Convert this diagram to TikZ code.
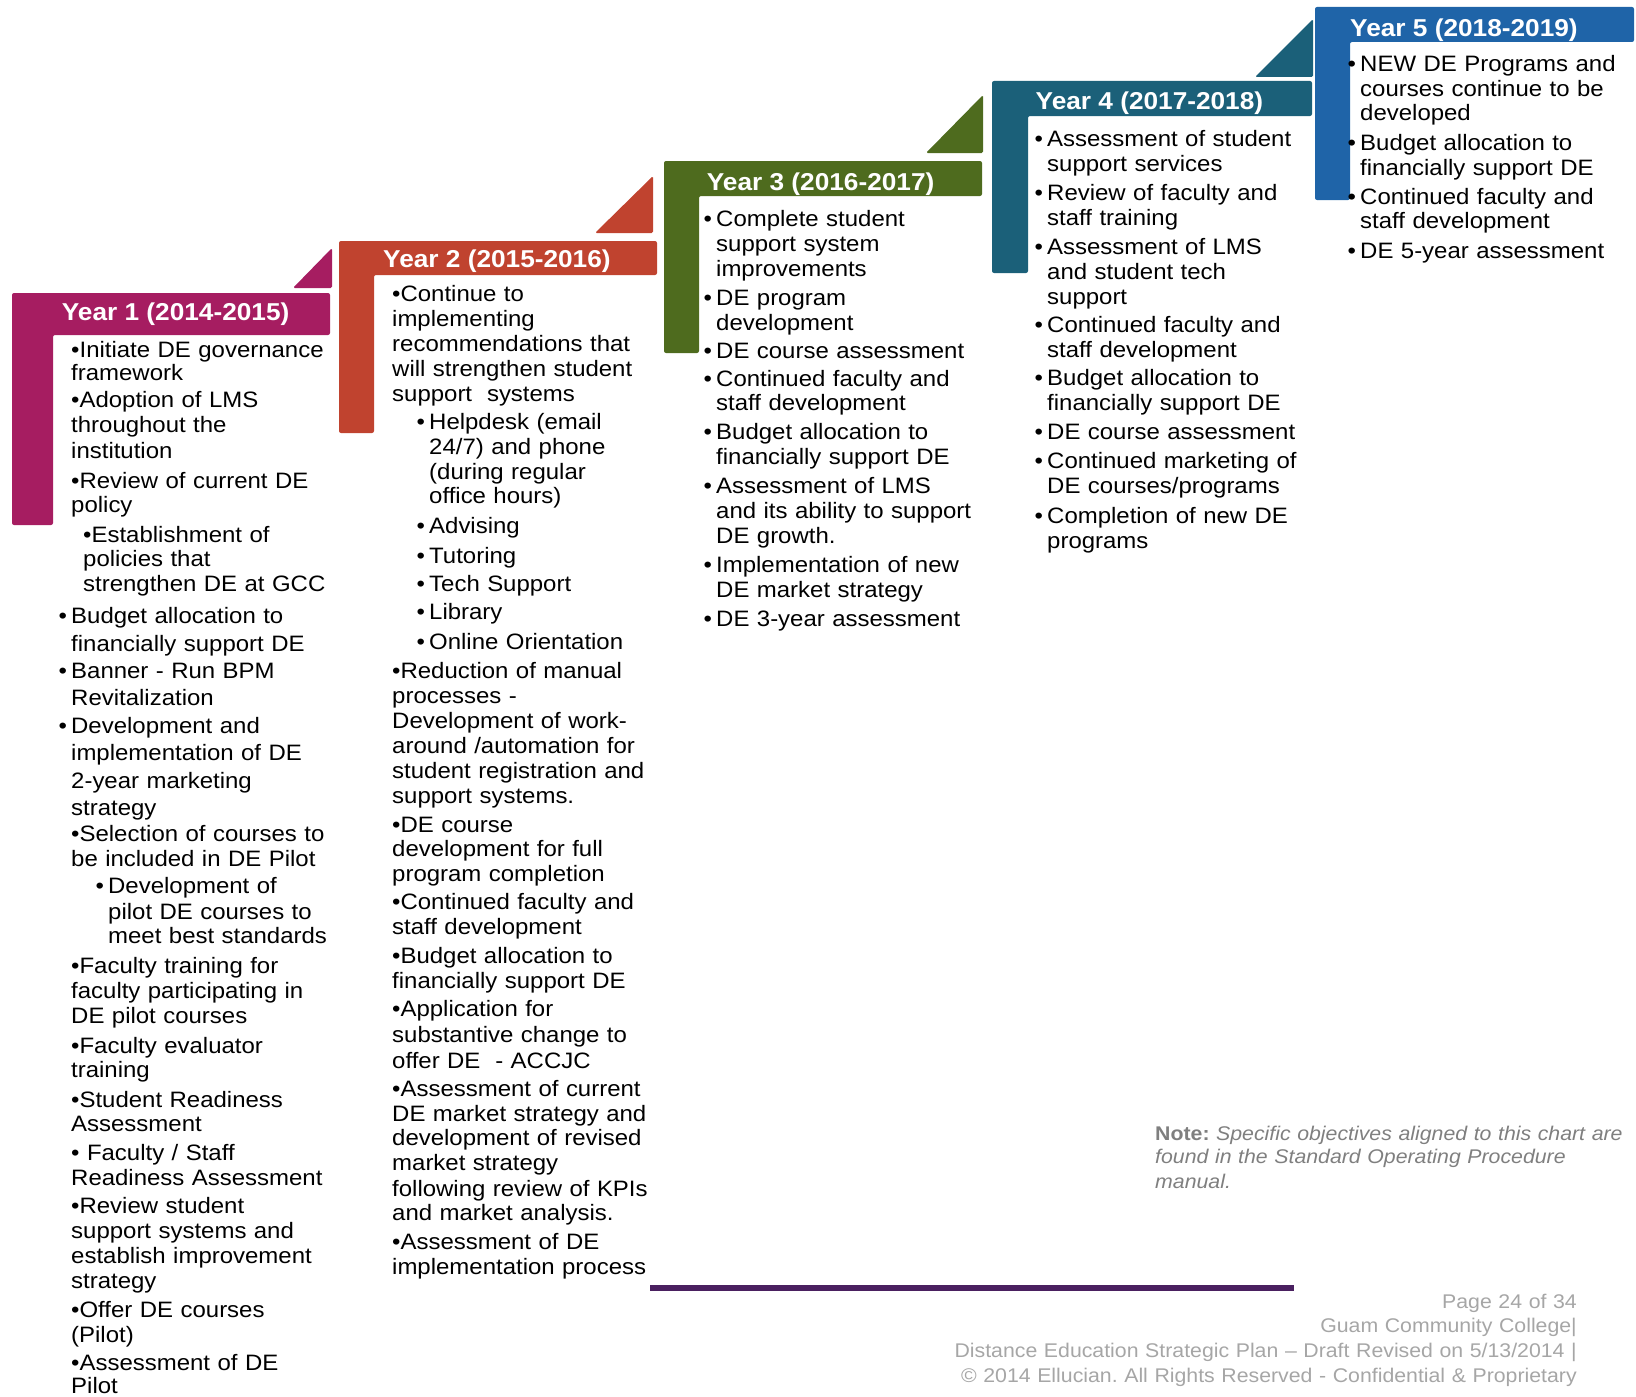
\documentclass[tikz,border=0pt]{standalone}
\usepackage{fontspec}
\setmainfont[FakeStretch=1.075]{Liberation Sans}
\frenchspacing
\definecolor{YMagenta}{HTML}{A61D61}
\definecolor{YBrick}{HTML}{C0432F}
\definecolor{YOlive}{HTML}{4E6B1E}
\definecolor{YTeal}{HTML}{1B6079}
\definecolor{YBlue}{HTML}{1F64A8}
\definecolor{LPurple}{HTML}{4A2060}
\definecolor{NGray}{HTML}{7F7F7F}
\definecolor{FGray}{HTML}{A6A6A6}
\newcommand{\hangbullet}{\leavevmode\llap{\makebox[12.5pt][l]{•}}}
\tikzset{
  yeartitle/.style={anchor=base west, inner sep=0pt, text=white, font=\bfseries\fontsize{24.4}{28}\selectfont},
  yearitems/.style={anchor=base west, inner sep=0pt, text width=300pt, align=left, font=\fontsize{22.3}{25}\selectfont},
  notetext/.style={anchor=base west, inner sep=0pt, text width=480pt, align=left, text=NGray, font=\fontsize{19.8}{24}\selectfont},
  footertext/.style={anchor=base east, inner sep=0pt, text width=700pt, align=right, text=FGray, font=\fontsize{19.8}{24.7}\selectfont}
}

\begin{document}
\begin{tikzpicture}[x=1pt, y=-1pt]
        \useasboundingbox (0,0) rectangle (1636,1397);
        % steps
        \foreach \col/\xl/\yt/\xr/\yb/\xv/\yv in {YMagenta/12/293/330/335/53/525, YBrick/339/241/657/275/374/433, YOlive/664/161/982/196/699/353, YTeal/992/81/1312/116/1028/273, YBlue/1315/7/1634/42/1350/200}
        {
            \fill[\col, rounded corners=2pt] (\xl,\yt) -- (\xr,\yt) -- (\xr,\yb) -- (\xv,\yb) -- (\xv,\yv) -- (\xl,\yv) -- cycle;
        }
        \foreach \col/\xl/\xr/\yb/\yt in {YMagenta/293/332/288/248, YBrick/595/653/233/176, YOlive/926/983/153/95, YTeal/1255/1313/77/19}
        {
            \fill[\col, rounded corners=1.5pt] (\xl,\yb) -- (\xr,\yb) -- (\xr,\yt) -- cycle;
        }
        \foreach \n/\x/\y/\yrs in {1/61.7/320/2014-2015, 2/383/267/2015-2016, 3/706.7/190/2016-2017, 4/1035.5/110/2017-2018, 5/1350/36.7/2018-2019}
        {
            \node[yeartitle] (title\n) at (\x,\y) {Year \n\ (\yrs)};
        }
        % items
        \node[yearitems] (itemsone) at (71,357) {•Initiate DE governance\\[-1.5pt]
            framework\\[1.7pt]
            •Adoption of LMS\\
            throughout the\\[1.7pt]
            institution\\[5pt]
            •Review of current DE\\[-1.7pt]
            policy\\[5pt]
            \hspace*{12pt}•Establishment of\\[-1pt]
            \hspace*{12pt}policies that\\
            \hspace*{12pt}strengthen DE at GCC\\[7.3pt]
            \hangbullet Budget allocation to\\[2.7pt]
            financially support DE\\[2.3pt]
            \hangbullet Banner - Run BPM\\[2.4pt]
            Revitalization\\[2.6pt]
            \hangbullet Development and\\[2.4pt]
            implementation of DE\\[2.6pt]
            2-year marketing\\[1.7pt]
            strategy\\[1.7pt]
            •Selection of courses to\\[-0.7pt]
            be included in DE Pilot\\[2.3pt]
            \hspace*{37pt}\hangbullet Development of\\[1pt]
            \hspace*{37pt}pilot DE courses to\\[-1pt]
            \hspace*{37pt}meet best standards\\[5.4pt]
            •Faculty training for\\
            faculty participating in\\
            DE pilot courses\\[5pt]
            •Faculty evaluator\\[-1.7pt]
            training\\[5pt]
            •Student Readiness\\[-1pt]
            Assessment\\[4.3pt]
            • Faculty / Staff\\
            Readiness Assessment\\[3.4pt]
            •Review student\\
            support systems and\\[-0.7pt]
            establish improvement\\
            strategy\\[4pt]
            •Offer DE courses\\
            (Pilot)\\[3.3pt]
            •Assessment of DE\\[-1.6pt]
            Pilot};
        \node[yearitems] (itemstwo) at (392,301.7) {•Continue to\\
            implementing\\
            recommendations that\\
            will strengthen student\\
            support~ systems\\[3pt]
            \hspace*{37pt}\hangbullet Helpdesk (email\\
            \hspace*{37pt}24/7) and phone\\[-0.7pt]
            \hspace*{37pt}(during regular\\[-1pt]
            \hspace*{37pt}office hours)\\[5pt]
            \hspace*{37pt}\hangbullet Advising\\[5pt]
            \hspace*{37pt}\hangbullet Tutoring\\[3.4pt]
            \hspace*{37pt}\hangbullet Tech Support\\[3.3pt]
            \hspace*{37pt}\hangbullet Library\\[5pt]
            \hspace*{37pt}\hangbullet Online Orientation\\[3.3pt]
            •Reduction of manual\\
            processes -\\
            Development of work-\\
            around /automation for\\
            student registration and\\
            support systems.\\[4.4pt]
            •DE course\\[-1pt]
            development for full\\
            program completion\\[3.3pt]
            •Continued faculty and\\
            staff development\\[3.3pt]
            •Budget allocation to\\
            financially support DE\\[3.4pt]
            •Application for\\[1pt]
            substantive change to\\[0.6pt]
            offer DE~ - ACCJC\\[3.4pt]
            •Assessment of current\\
            DE market strategy and\\[-0.7pt]
            development of revised\\
            market strategy\\[0.7pt]
            following review of KPIs\\[-0.7pt]
            and market analysis.\\[4pt]
            •Assessment of DE\\
            implementation process};
        \node[yearitems] (itemsthree) at (716,226.7) {\hangbullet Complete student\\
            support system\\
            improvements\\[3.3pt]
            \hangbullet DE program\\
            development\\[3.3pt]
            \hangbullet DE course assessment\\[3.5pt]
            \hangbullet Continued faculty and\\[-1pt]
            staff development\\[3.2pt]
            \hangbullet Budget allocation to\\
            financially support DE\\[4.2pt]
            \hangbullet Assessment of LMS\\
            and its ability to support\\
            DE growth.\\[4.2pt]
            \hangbullet Implementation of new\\
            DE market strategy\\[4.2pt]
            \hangbullet DE 3-year assessment};
        \node[yearitems] (itemsfour) at (1047,146.7) {\hangbullet Assessment of student\\
            support services\\[3.3pt]
            \hangbullet Review of faculty and\\
            staff training\\[4pt]
            \hangbullet Assessment of LMS\\
            and student tech\\
            support\\[3.2pt]
            \hangbullet Continued faculty and\\
            staff development\\[3.2pt]
            \hangbullet Budget allocation to\\
            financially support DE\\[4.2pt]
            \hangbullet DE course assessment\\[4.2pt]
            \hangbullet Continued marketing of\\
            DE courses/programs\\[4.2pt]
            \hangbullet Completion of new DE\\
            programs};
        \node[yearitems, text width=270pt] (itemsfive) at (1360,71.7) {\hangbullet NEW DE Programs and\\
            courses continue to be\\[-1.5pt]
            developed\\[5pt]
            \hangbullet Budget allocation to\\
            financially support DE\\[4pt]
            \hangbullet Continued faculty and\\[-0.7pt]
            staff development\\[5pt]
            \hangbullet DE 5-year assessment};
        % note and footer
        \node[notetext] (note) at (1155,1140) {\textbf{Note:} \textit{Specific objectives aligned to this chart are}\\[-1pt]
            \textit{found in the Standard Operating Procedure}\\[1pt]
            \textit{manual.}};
        \draw[LPurple, line width=6pt] (650,1288) -- (1294,1288);
        \node[footertext] (footer) at (1577,1308) {Page 24 of 34\\
            Guam Community College|\\
            Distance Education Strategic Plan – Draft Revised on 5/13/2014 |\\
            © 2014 Ellucian. All Rights Reserved - Confidential \& Proprietary};
\end{tikzpicture}
\end{document}
